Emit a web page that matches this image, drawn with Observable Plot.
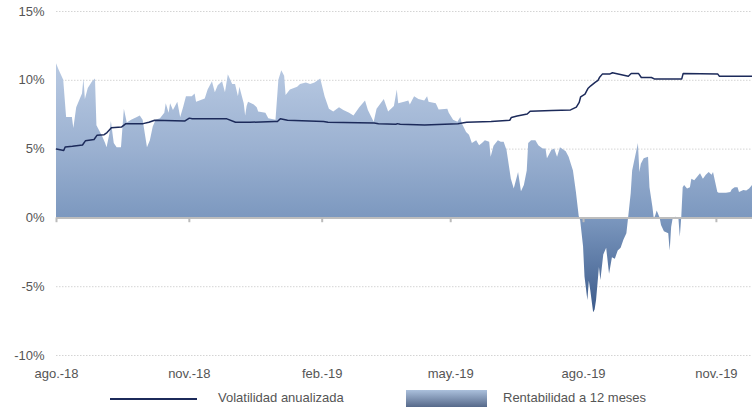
<!DOCTYPE html>
<html>
<head>
<meta charset="utf-8">
<script src="https://cdn.jsdelivr.net/npm/d3@7"></script>
<script src="https://cdn.jsdelivr.net/npm/@observablehq/plot@0.6"></script>
<style>
  body { margin: 0; background: #fff; }
  #wrap { position: relative; width: 752px; height: 408px; font-family: "Liberation Sans", Arial, sans-serif; }
  #legend { position: absolute; left: 0; top: 384px; width: 752px; height: 24px; font-size: 13px; color: #555; }
  .sw-line { position: absolute; left: 110px; top: 14px; width: 87px; height: 2px; background: #1c2a5a; }
  .sw-area { position: absolute; left: 406px; top: 6px; width: 81px; height: 17px; background: linear-gradient(#abc0dc, #56698a); }
  .lt { position: absolute; top: 6px; line-height: 16px; white-space: nowrap; }
</style>
</head>
<body>
<div id="wrap">
  <div id="chart"></div>
  <div id="legend">
    <div class="sw-line"></div><div class="lt" style="left:218px">Volatilidad anualizada</div>
    <div class="sw-area"></div><div class="lt" style="left:503px">Rentabilidad a 12 meses</div>
  </div>
</div>
<script>
// Rentabilidad a 12 meses (%)
const rentDates = [
"2018-08-01","2018-08-03","2018-08-06","2018-08-08","2018-08-12","2018-08-13","2018-08-15","2018-08-19","2018-08-20","2018-08-21",
"2018-08-23","2018-08-26","2018-08-28","2018-08-29","2018-09-02","2018-09-04","2018-09-05","2018-09-07","2018-09-08","2018-09-10",
"2018-09-12","2018-09-15","2018-09-17","2018-09-19","2018-09-22","2018-09-26","2018-09-28","2018-09-30","2018-10-03","2018-10-05",
"2018-10-07","2018-10-09","2018-10-12","2018-10-15","2018-10-16","2018-10-18","2018-10-19","2018-10-21","2018-10-24","2018-10-26",
"2018-10-28","2018-10-30","2018-11-03","2018-11-05","2018-11-06","2018-11-12","2018-11-14","2018-11-17","2018-11-19","2018-11-21",
"2018-11-24","2018-11-26","2018-11-28","2018-12-01","2018-12-03","2018-12-05","2018-12-06","2018-12-09","2018-12-10","2018-12-11",
"2018-12-12","2018-12-16","2018-12-18","2018-12-19","2018-12-24","2018-12-26","2018-12-31","2019-01-02","2019-01-04","2019-01-06",
"2019-01-07","2019-01-10","2019-01-15","2019-01-17","2019-01-21","2019-01-24","2019-01-27","2019-01-31","2019-02-03","2019-02-06",
"2019-02-09","2019-02-13","2019-02-16","2019-02-20","2019-02-23","2019-02-27","2019-03-03","2019-03-05","2019-03-09","2019-03-11",
"2019-03-16","2019-03-19","2019-03-23","2019-03-25","2019-03-26","2019-03-30","2019-04-02","2019-04-03","2019-04-06","2019-04-09",
"2019-04-13","2019-04-15","2019-04-16","2019-04-21","2019-04-23","2019-04-29","2019-04-30","2019-05-03","2019-05-06","2019-05-08",
"2019-05-09","2019-05-12","2019-05-14","2019-05-16","2019-05-19","2019-05-21","2019-05-23","2019-05-25","2019-05-28","2019-05-29",
"2019-05-31","2019-06-03","2019-06-05","2019-06-07","2019-06-09","2019-06-10","2019-06-12","2019-06-14","2019-06-17","2019-06-19",
"2019-06-21","2019-06-23","2019-06-24","2019-06-26","2019-06-29","2019-07-01","2019-07-04","2019-07-06","2019-07-07","2019-07-10",
"2019-07-12","2019-07-14","2019-07-16","2019-07-20","2019-07-22","2019-07-25","2019-07-27","2019-07-29","2019-07-30","2019-08-01",
"2019-08-02","2019-08-04","2019-08-05","2019-08-06","2019-08-08","2019-08-09","2019-08-10","2019-08-12","2019-08-13","2019-08-15",
"2019-08-17","2019-08-19","2019-08-21","2019-08-23","2019-08-25","2019-08-27","2019-08-29","2019-08-31","2019-09-01","2019-09-03",
"2019-09-04","2019-09-08","2019-09-09","2019-09-10","2019-09-12","2019-09-15","2019-09-16","2019-09-18","2019-09-19","2019-09-20",
"2019-09-21","2019-09-23","2019-09-24","2019-09-26","2019-09-29","2019-09-30","2019-10-01","2019-10-02","2019-10-04","2019-10-06",
"2019-10-07","2019-10-08","2019-10-09","2019-10-10","2019-10-12","2019-10-14","2019-10-15","2019-10-17","2019-10-19","2019-10-21",
"2019-10-23","2019-10-25","2019-10-27","2019-10-29","2019-10-30","2019-11-02","2019-11-03","2019-11-08","2019-11-11","2019-11-12",
"2019-11-14","2019-11-16","2019-11-17","2019-11-20","2019-11-22","2019-11-24","2019-11-26"
];
const rentValues = [
11.2,10.7,10.0,7.3,7.3,6.5,8.0,9.0,10.1,8.6,
9.4,9.9,10.1,6.7,5.9,5.4,5.1,6.1,7.0,5.4,
5.1,5.1,7.9,6.9,7.1,7.3,7.4,7.1,5.1,5.6,
6.6,7.1,7.2,7.6,8.3,7.6,8.3,7.8,8.4,7.3,
8.0,8.8,8.8,9.0,8.4,8.65,9.3,9.9,9.1,9.6,
9.9,9.1,10.4,9.7,9.7,8.8,9.5,8.3,7.4,8.1,
8.4,8.2,8.0,7.7,7.6,7.2,7.1,10.0,10.7,10.3,
8.9,9.3,9.5,9.7,9.8,9.7,9.8,10.1,8.8,7.9,
7.7,8.0,7.8,7.6,7.4,8.0,8.5,7.8,6.95,7.9,
8.6,7.7,8.1,9.3,8.3,8.4,8.5,8.2,8.8,8.6,
8.5,8.8,8.4,8.3,7.85,7.9,7.6,7.1,6.95,7.3,
6.85,6.2,6.0,5.4,5.6,5.25,5.4,5.6,5.5,4.4,
5.2,5.6,5.5,5.5,4.9,4.2,2.8,2.1,3.3,1.9,
2.35,3.4,5.4,5.6,5.6,5.25,5.0,5.0,4.3,4.9,
5.0,4.4,5.1,4.8,4.4,3.4,1.9,0.1,-0.2,-2.1,
-4.3,-6.0,-4.6,-5.3,-6.9,-6.7,-6.0,-3.6,-4.55,-2.7,
-2.2,-4.1,-2.9,-3.0,-2.4,-2.2,-1.6,-1.15,-0.2,1.75,
3.4,5.4,3.3,3.9,4.3,4.4,2.2,0.8,-0.1,0.15,
0.5,0.0,-0.55,-1.0,-1.15,-2.4,-0.7,-0.1,0.05,0.0,
-1.4,0.0,2.2,2.35,2.1,2.2,2.8,2.7,2.95,3.2,
2.8,3.1,3.3,3.1,3.3,1.85,1.8,1.8,1.85,2.05,
2.2,2.2,1.85,2.0,1.95,2.1,2.35
];
// Volatilidad anualizada (%)
const volDates = [
"2018-08-01","2018-08-06","2018-08-07","2018-08-12","2018-08-19","2018-08-21","2018-08-27","2018-08-29","2018-09-03","2018-09-05",
"2018-09-08","2018-09-15","2018-09-18","2018-09-30","2018-10-04","2018-10-08","2018-10-29","2018-11-01","2018-11-03","2018-11-27",
"2018-12-03","2018-12-13","2018-12-30","2019-01-01","2019-01-03","2019-01-08","2019-02-02","2019-02-05","2019-03-09","2019-03-12",
"2019-03-24","2019-03-25","2019-03-27","2019-04-13","2019-05-06","2019-05-09","2019-05-12","2019-05-29","2019-06-11","2019-06-12",
"2019-06-16","2019-06-23","2019-06-25","2019-07-10","2019-07-23","2019-07-27","2019-07-29","2019-07-30","2019-08-02","2019-08-04",
"2019-08-06","2019-08-09","2019-08-11","2019-08-12","2019-08-14","2019-08-19","2019-08-21","2019-09-01","2019-09-03","2019-09-08",
"2019-09-10","2019-09-17","2019-09-19","2019-10-01","2019-10-08","2019-10-09","2019-11-02","2019-11-03","2019-11-26"
];
const volValues = [
5.0,4.9,5.15,5.2,5.3,5.6,5.7,6.0,6.05,6.2,
6.55,6.6,6.85,6.85,6.95,7.1,7.05,7.25,7.2,7.2,
6.95,6.95,7.0,7.0,7.2,7.1,7.0,6.95,6.9,6.85,
6.8,6.85,6.8,6.75,6.85,6.9,6.95,7.0,7.1,7.3,
7.4,7.55,7.75,7.8,7.85,8.05,8.4,8.8,9.0,9.4,
9.6,9.85,10.0,10.2,10.45,10.45,10.55,10.3,10.5,10.5,
10.2,10.2,10.1,10.1,10.1,10.5,10.45,10.3,10.3
];
// Axis ticks
const xTickDates = ["2018-08-01","2018-11-01","2019-02-01","2019-05-01","2019-08-01","2019-11-01"];
const xTickLabels = ["ago.-18","nov.-18","feb.-19","may.-19","ago.-19","nov.-19"];
const yTicks = [-10, -5, 0, 5, 10, 15];
const domainX = ["2018-08-01", "2019-11-26"];

const rent = rentDates.map((d, i) => ({date: new Date(d), value: rentValues[i]}));
const vol = volDates.map((d, i) => ({date: new Date(d), value: volValues[i]}));
const xTicks = xTickDates.map(d => new Date(d));
const labelOf = new Map(xTicks.map((d, i) => [d.getTime(), xTickLabels[i]]));

const gradDefs = () => {
  const defs = d3.create("svg:defs");
  const g = defs.append("linearGradient")
    .attr("id", "rentGrad").attr("gradientUnits", "userSpaceOnUse")
    .attr("x1", 0).attr("x2", 0).attr("y1", 11).attr("y2", 355);
  [[0, "#c6d4e9"], [0.2, "#b3c5df"], [0.4, "#9bb1d1"], [0.6, "#7c98bf"], [0.88, "#3b5a8a"], [1, "#2f4c7c"]]
    .forEach(([o, c]) => g.append("stop").attr("offset", o).attr("stop-color", c));
  return defs.node();
};

const chart = Plot.plot({
  width: 752,
  height: 384,
  marginLeft: 56,
  marginRight: 0,
  marginTop: 11,
  marginBottom: 29,
  x: {type: "utc", domain: domainX.map(d => new Date(d))},
  y: {domain: [-10, 15]},
  style: {fontFamily: "'Liberation Sans', Arial, sans-serif", fontSize: "13px", color: "#555", background: "white"},
  marks: [
    gradDefs,
    Plot.gridY(yTicks.filter(v => v !== 0), {stroke: "#d4d4d4", strokeOpacity: 1, strokeWidth: 1, strokeDasharray: "1.5,1.5"}),
    Plot.areaY(rent, {x: "date", y: "value", fill: "url(#rentGrad)"}),
    Plot.ruleY([0], {stroke: "#bdbdbd", strokeWidth: 2}),
    Plot.ruleX(xTicks, {y1: 0, y2: -0.35, stroke: "#bbbbbb", strokeWidth: 2}),
    Plot.lineY(vol, {x: "date", y: "value", stroke: "#1c2a5a", strokeWidth: 1.5}),
    Plot.axisY({ticks: yTicks, tickFormat: d => d + "%", tickSize: 0, tickPadding: 12, label: null}),
    Plot.axisX({ticks: xTicks, tickFormat: d => labelOf.get(d.getTime()), tickSize: 0, tickPadding: 13, label: null})
  ]
});
document.getElementById("chart").appendChild(chart);
</script>
</body>
</html>
